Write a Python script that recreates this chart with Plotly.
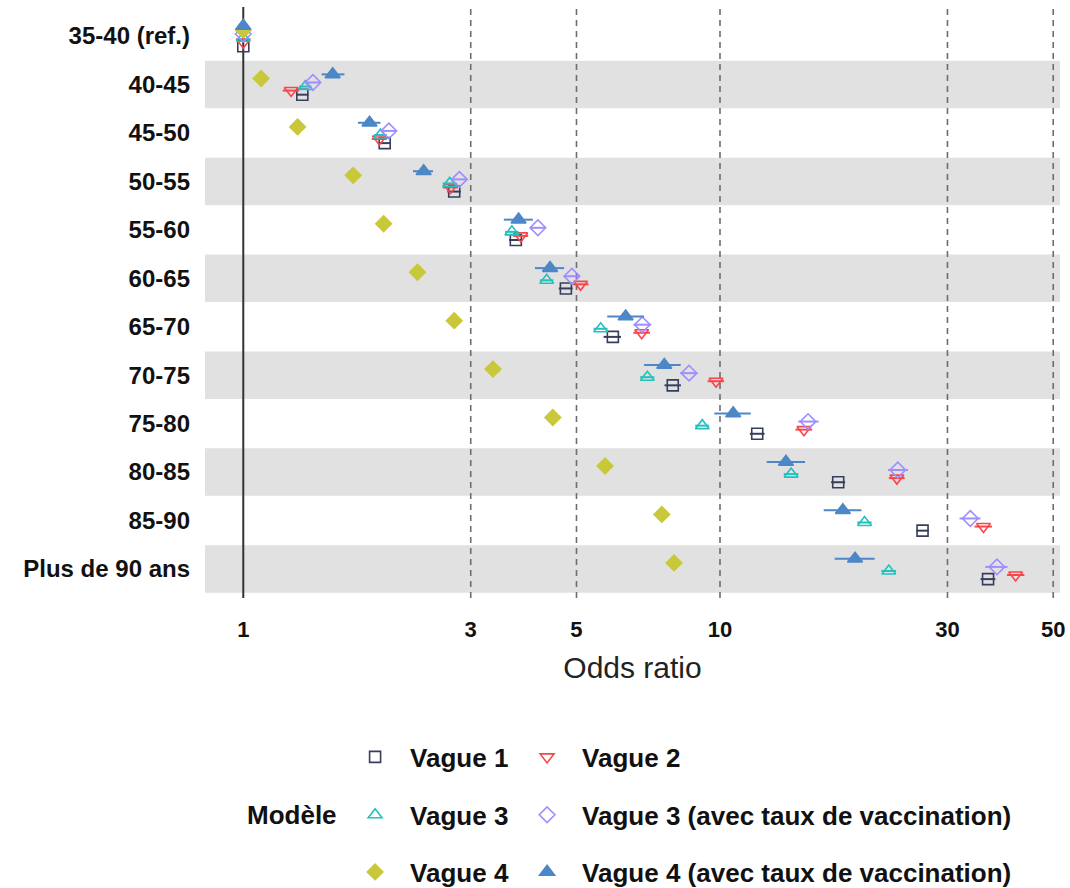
import numpy as np
import plotly.graph_objects as go

ages = ["35-40 (ref.)", "40-45", "45-50", "50-55", "55-60", "60-65", "65-70",
        "70-75", "75-80", "80-85", "85-90", "Plus de 90 ans"]

series_names = ["Vague 1", "Vague 2", "Vague 3", "Vague 3 (avec taux de vaccination)",
                "Vague 4", "Vague 4 (avec taux de vaccination)"]

v1 = [1, 1.33, 1.98, 2.77, 3.73, 4.75, 5.96, 7.96, 11.97, 17.7, 26.6, 36.5]
v1_lo = [1, 1.29, 1.92, 2.68, 3.61, 4.59, 5.70, 7.65, 11.55, 17.1, 25.8, 35.2]
v1_hi = [1, 1.37, 2.04, 2.86, 3.86, 4.91, 6.20, 8.28, 12.40, 18.3, 27.4, 37.8]

v2 = [1, 1.26, 1.93, 2.72, 3.82, 5.10, 6.85, 9.81, 15.0, 23.5, 35.7, 41.7]
v2_lo = [1, 1.21, 1.86, 2.62, 3.68, 4.91, 6.58, 9.42, 14.4, 22.6, 34.2, 40.0]
v2_hi = [1, 1.31, 2.00, 2.82, 3.96, 5.30, 7.13, 10.2, 15.6, 24.4, 37.2, 43.5]

v3 = [1, 1.35, 1.94, 2.71, 3.66, 4.33, 5.62, 7.04, 9.18, 14.1, 20.1, 22.6]
v3_lo = [1, 1.31, 1.88, 2.62, 3.54, 4.19, 5.43, 6.80, 8.87, 13.6, 19.4, 21.8]
v3_hi = [1, 1.39, 2.00, 2.80, 3.78, 4.47, 5.81, 7.28, 9.49, 14.6, 20.8, 23.4]

v3v = [1, 1.40, 2.02, 2.84, 4.15, 4.89, 6.87, 8.61, 15.3, 23.6, 33.5, 38.1]
v3v_lo = [1, 1.35, 1.95, 2.74, 4.00, 4.70, 6.58, 8.25, 14.6, 22.5, 31.8, 36.0]
v3v_hi = [1, 1.45, 2.09, 2.94, 4.30, 5.08, 7.17, 8.98, 16.1, 24.8, 35.2, 40.1]

v4 = [1, 1.09, 1.30, 1.70, 1.97, 2.32, 2.77, 3.34, 4.46, 5.74, 7.55, 8.01]
v4_lo = [1, 1.06, 1.26, 1.65, 1.91, 2.25, 2.68, 3.23, 4.31, 5.55, 7.30, 7.73]
v4_hi = [1, 1.12, 1.34, 1.75, 2.03, 2.39, 2.86, 3.45, 4.61, 5.93, 7.80, 8.29]

v4v = [1, 1.54, 1.84, 2.39, 3.78, 4.40, 6.34, 7.64, 10.66, 13.75, 18.1, 19.2]
v4v_lo = [1, 1.46, 1.74, 2.27, 3.52, 4.09, 5.80, 6.93, 9.73, 12.53, 16.5, 17.4]
v4v_hi = [1, 1.63, 1.94, 2.50, 4.05, 4.71, 6.93, 8.27, 11.6, 15.08, 19.8, 21.1]

x_ticks = [1, 3, 5, 10, 30, 50]

values = [v1, v2, v3, v3v, v4, v4v]
lows = [v1_lo, v2_lo, v3_lo, v3v_lo, v4_lo, v4v_lo]
highs = [v1_hi, v2_hi, v3_hi, v3v_hi, v4_hi, v4v_hi]

colors = ["#363E5C", "#F8464A", "#22C1BD", "#9E8EFF", "#C9C83A", "#4C87C8"]
symbols = ["square-open", "triangle-down-open", "triangle-up-open", "diamond-open",
           "diamond", "triangle-up"]
sizes = [11, 12, 12, 12, 12, 13]
dodge = [0.21, 0.125, 0.042, -0.042, -0.125, -0.21]
legend_ids = ["legend", "legend", "legend2", "legend2", "legend3", "legend3"]
col1 = [True, False, True, False, True, False]

fig = go.Figure()
rows = np.arange(len(ages))

for i in range(6):
    v = np.array(values[i], dtype=float)
    lo = np.array(lows[i], dtype=float)
    hi = np.array(highs[i], dtype=float)
    tr = dict(
        x=v, y=rows + dodge[i], mode="markers", name=series_names[i],
        marker=dict(symbol=symbols[i], size=sizes[i], color=colors[i],
                    line=dict(color=colors[i], width=1.6)),
        error_x=dict(type="data", symmetric=False, array=hi - v, arrayminus=v - lo,
                     color=colors[i], thickness=2, width=0),
        legend=legend_ids[i], hoverinfo="skip",
    )
    if col1[i]:
        tr["legendwidth"] = 97
    fig.add_trace(go.Scatter(**tr))

shapes = []
for r in rows:
    if r % 2 == 1:
        shapes.append(dict(type="rect", xref="paper", yref="y", x0=0, x1=1,
                           y0=r - 0.49, y1=r + 0.49, fillcolor="#E1E1E1",
                           line=dict(width=0), layer="below"))
for t in x_ticks[1:]:
    shapes.append(dict(type="line", xref="x", yref="paper", x0=t, x1=t, y0=0, y1=1,
                       line=dict(color="#6E6E6E", width=1.6, dash="6px,5px"), layer="below"))
shapes.append(dict(type="line", xref="x", yref="paper", x0=1, x1=1, y0=0, y1=1,
                   line=dict(color="#333333", width=2), layer="below"))

legend_common = dict(orientation="h", xanchor="left", yanchor="middle",
                     bgcolor="rgba(0,0,0,0)", itemwidth=60,
                     font=dict(family="Liberation Sans", size=26, color="#111111", weight="bold"))

fig.update_layout(
    width=1070, height=888,
    margin=dict(l=205, r=10, t=7, b=290, autoexpand=False),
    paper_bgcolor="white", plot_bgcolor="white",
    shapes=shapes,
    showlegend=True,
    legend=dict(x=0.158, y=-0.269, **legend_common),
    legend2=dict(x=0.158, y=-0.367, **legend_common),
    legend3=dict(x=0.158, y=-0.4636, **legend_common),
    annotations=[dict(text="Modèle", xref="paper", yref="paper", x=0.1018, y=-0.367,
                      xanchor="center", yanchor="middle", showarrow=False,
                      font=dict(family="Liberation Sans", size=26, color="#111111",
                                weight="bold"))],
    xaxis=dict(type="log", range=[-0.0803, 1.7132], tickvals=x_ticks,
               ticktext=[str(t) for t in x_ticks], showgrid=False, zeroline=False,
               showline=False, ticks="", ticklabelstandoff=16, automargin=False,
               tickfont=dict(family="Liberation Sans", size=22, color="#111111", weight="bold"),
               title=dict(text="Odds ratio", standoff=15,
                          font=dict(family="Liberation Sans", size=30, color="#222222"))),
    yaxis=dict(range=[11.6, -0.6], tickvals=list(rows), ticktext=ages,
               showgrid=False, zeroline=False, showline=False, ticks="",
               ticklabelstandoff=14, automargin=False,
               tickfont=dict(family="Liberation Sans", size=24, color="#111111", weight="bold")),
)

fig.write_html("out.html")
